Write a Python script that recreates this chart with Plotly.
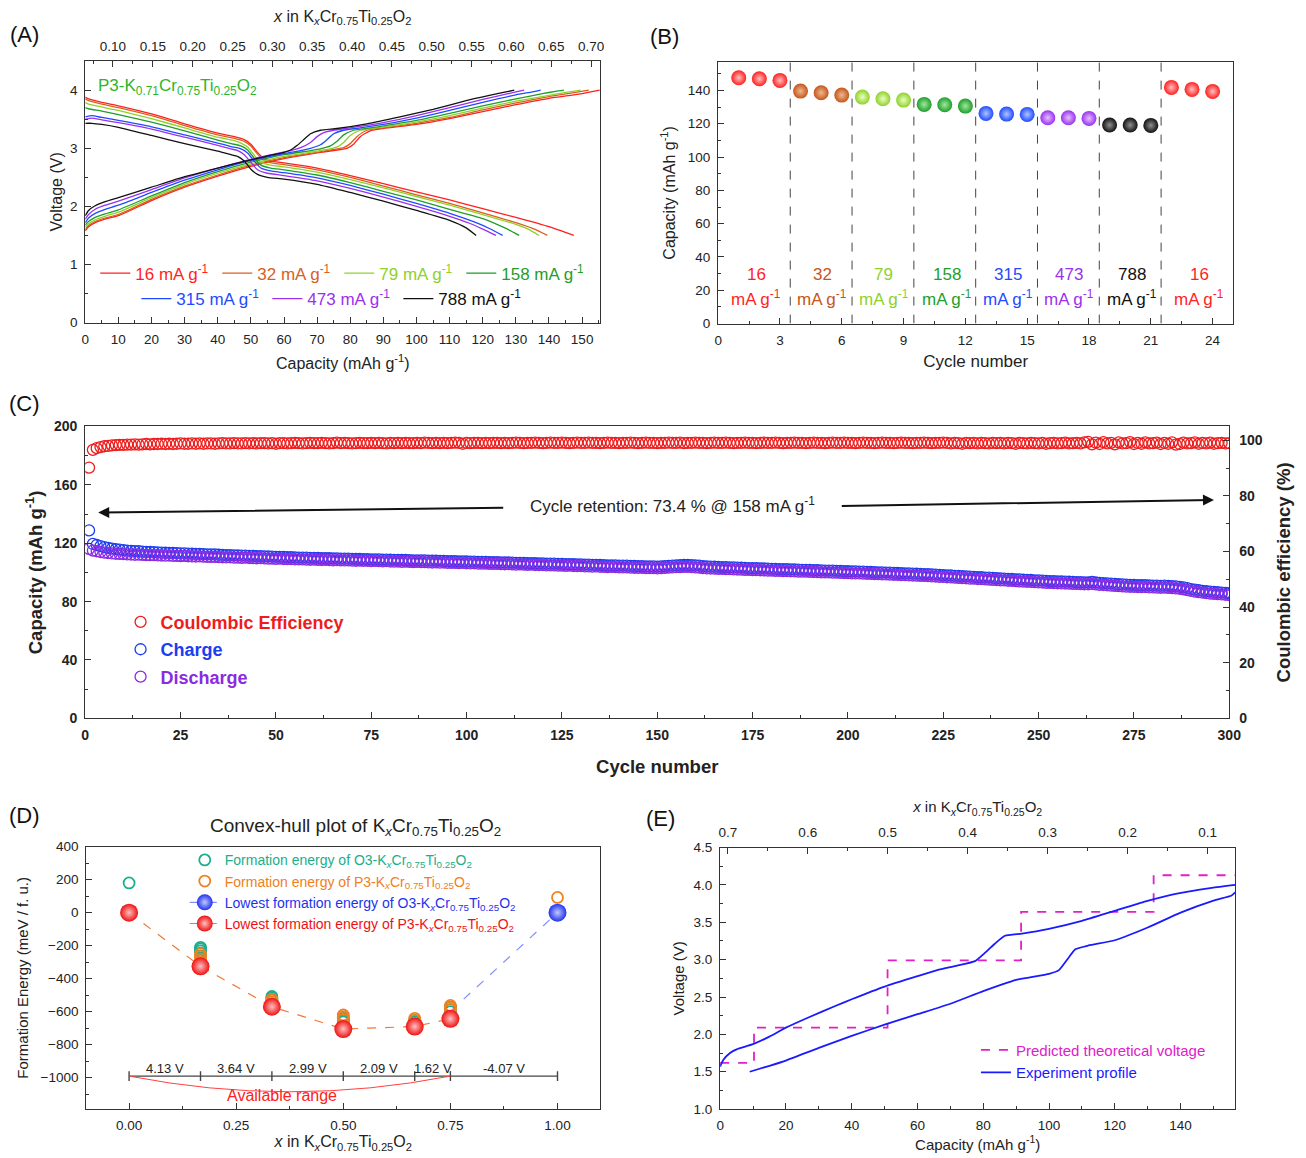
import plotly.graph_objects as go

W, H = 1306, 1158
FONT = "Liberation Sans, Arial, sans-serif"
AX = "#333333"

# page-to-picture calibration (the captured picture is slightly scaled/offset)
SX, OX, SY, OY = 0.9895, 4.6, 0.9843, 9.0


def fx(p):
    return p / W


def fy(p):
    return 1 - p / H


def PX(r):
    return fx((r - OX) / SX)


def PY(r):
    return fy((r - OY) / SY)


# ------------------------------------------------------------------ Panel A data
rate_labels = ["16", "32", "79", "158", "315", "473", "788"]
rate_colors = ["#ff1f1f", "#d95f1e", "#8fd12a", "#1f9e2a", "#1f4bff", "#9b30f0", "#111111"]

cap_ch_16 = [0, 1, 3, 6, 10, 20, 30, 40, 50, 60, 70, 76, 79, 81, 83, 86, 90, 100, 110, 120, 130, 140, 150, 155.3]
v_ch_16 = [1.58, 1.65, 1.72, 1.78, 1.84, 2.1, 2.33, 2.52, 2.69, 2.82, 2.92, 2.97, 3.0, 3.07, 3.2, 3.3, 3.34, 3.41, 3.51, 3.63, 3.75, 3.86, 3.94, 4.0]
cap_ch_32 = [0, 1, 3, 6, 10, 20, 30, 40, 50, 60, 70, 75, 78, 80, 82, 85, 90, 100, 110, 120, 130, 140, 148, 152]
v_ch_32 = [1.6, 1.67, 1.74, 1.8, 1.86, 2.12, 2.35, 2.54, 2.71, 2.84, 2.93, 2.98, 3.01, 3.08, 3.2, 3.31, 3.35, 3.43, 3.53, 3.66, 3.78, 3.89, 3.96, 4.0]
cap_ch_79 = [0, 1, 3, 6, 10, 20, 30, 40, 50, 60, 70, 73, 76, 78, 80, 83, 88, 100, 110, 120, 130, 140, 146, 149.5]
v_ch_79 = [1.64, 1.7, 1.77, 1.83, 1.9, 2.15, 2.38, 2.57, 2.73, 2.86, 2.95, 2.98, 3.02, 3.1, 3.22, 3.31, 3.35, 3.45, 3.56, 3.69, 3.81, 3.91, 3.97, 4.0]
cap_ch_158 = [0, 1, 3, 6, 10, 20, 30, 40, 50, 60, 68, 71, 74, 76, 78, 81, 86, 100, 110, 120, 130, 138, 142, 144.5]
v_ch_158 = [1.68, 1.74, 1.81, 1.87, 1.94, 2.18, 2.41, 2.6, 2.76, 2.89, 2.96, 2.99, 3.04, 3.12, 3.23, 3.31, 3.35, 3.48, 3.6, 3.73, 3.85, 3.94, 3.98, 4.0]
cap_ch_315 = [0, 1, 3, 6, 10, 20, 30, 40, 50, 60, 65, 68, 71, 73, 75, 78, 83, 90, 100, 110, 120, 130, 135, 137.5]
v_ch_315 = [1.72, 1.8, 1.88, 1.95, 2.02, 2.24, 2.45, 2.63, 2.79, 2.91, 2.96, 3.0, 3.06, 3.15, 3.25, 3.31, 3.35, 3.41, 3.52, 3.65, 3.79, 3.92, 3.97, 4.0]
cap_ch_473 = [0, 1, 3, 6, 10, 20, 30, 40, 50, 58, 62, 65, 68, 70, 72, 75, 80, 90, 100, 110, 120, 127, 130, 132.5]
v_ch_473 = [1.78, 1.86, 1.95, 2.02, 2.09, 2.29, 2.49, 2.66, 2.81, 2.91, 2.96, 3.01, 3.1, 3.2, 3.27, 3.31, 3.35, 3.44, 3.56, 3.7, 3.84, 3.93, 3.97, 4.0]
cap_ch_788 = [0, 1, 3, 6, 10, 20, 30, 40, 50, 56, 60, 62, 64, 66, 68, 71, 76, 85, 95, 105, 115, 122, 127, 129.5]
v_ch_788 = [1.84, 1.93, 2.01, 2.08, 2.15, 2.33, 2.51, 2.66, 2.8, 2.88, 2.93, 2.97, 3.05, 3.15, 3.25, 3.31, 3.34, 3.42, 3.54, 3.67, 3.82, 3.91, 3.97, 4.0]

cap_dc_16 = [0, 1, 5, 10, 20, 30, 40, 45, 48, 50, 52, 54, 57, 60, 70, 80, 90, 100, 110, 120, 130, 140, 147.5]
v_dc_16 = [3.88, 3.85, 3.79, 3.73, 3.59, 3.42, 3.26, 3.2, 3.15, 3.07, 2.93, 2.82, 2.77, 2.75, 2.66, 2.53, 2.39, 2.25, 2.11, 1.96, 1.81, 1.65, 1.5]
cap_dc_32 = [0, 1, 5, 10, 20, 30, 40, 45, 48, 50, 52, 54, 57, 60, 70, 80, 90, 100, 110, 120, 130, 136, 139.5]
v_dc_32 = [3.85, 3.82, 3.76, 3.7, 3.56, 3.39, 3.23, 3.17, 3.12, 3.04, 2.9, 2.79, 2.74, 2.72, 2.63, 2.5, 2.35, 2.2, 2.05, 1.89, 1.72, 1.6, 1.5]
cap_dc_79 = [0, 1, 5, 10, 20, 30, 40, 45, 47, 49, 51, 53, 56, 60, 70, 80, 90, 100, 110, 120, 130, 134, 137]
v_dc_79 = [3.79, 3.76, 3.71, 3.65, 3.51, 3.35, 3.19, 3.13, 3.09, 3.02, 2.88, 2.76, 2.71, 2.68, 2.59, 2.46, 2.32, 2.17, 2.02, 1.86, 1.69, 1.6, 1.5]
cap_dc_158 = [0, 1, 5, 10, 20, 30, 40, 44, 47, 49, 51, 53, 56, 60, 70, 80, 90, 100, 110, 120, 127, 131]
v_dc_158 = [3.7, 3.68, 3.64, 3.58, 3.45, 3.3, 3.14, 3.08, 3.04, 2.97, 2.83, 2.71, 2.66, 2.63, 2.54, 2.41, 2.26, 2.11, 1.95, 1.79, 1.62, 1.5]
cap_dc_315 = [0, 2, 5, 10, 20, 30, 40, 44, 47, 49, 51, 53, 56, 60, 70, 80, 90, 100, 110, 118, 122, 126]
v_dc_315 = [3.54, 3.56, 3.53, 3.48, 3.37, 3.23, 3.09, 3.03, 2.99, 2.92, 2.78, 2.66, 2.61, 2.58, 2.49, 2.36, 2.21, 2.05, 1.88, 1.72, 1.62, 1.5]
cap_dc_473 = [0, 2, 5, 10, 20, 30, 40, 44, 46, 48, 50, 52, 55, 60, 70, 80, 90, 100, 110, 116, 120, 124]
v_dc_473 = [3.5, 3.52, 3.49, 3.44, 3.33, 3.19, 3.05, 2.99, 2.96, 2.89, 2.76, 2.63, 2.57, 2.53, 2.44, 2.31, 2.16, 2.0, 1.83, 1.71, 1.61, 1.5]
cap_dc_788 = [0, 2, 5, 10, 20, 30, 40, 44, 46, 48, 50, 52, 55, 60, 70, 80, 90, 100, 110, 115, 118]
v_dc_788 = [3.43, 3.43, 3.41, 3.36, 3.22, 3.08, 2.95, 2.89, 2.86, 2.78, 2.64, 2.55, 2.5, 2.47, 2.38, 2.24, 2.09, 1.93, 1.76, 1.63, 1.5]

charge_caps = [cap_ch_16, cap_ch_32, cap_ch_79, cap_ch_158, cap_ch_315, cap_ch_473, cap_ch_788]
charge_volts = [v_ch_16, v_ch_32, v_ch_79, v_ch_158, v_ch_315, v_ch_473, v_ch_788]
dis_caps = [cap_dc_16, cap_dc_32, cap_dc_79, cap_dc_158, cap_dc_315, cap_dc_473, cap_dc_788]
dis_volts = [v_dc_16, v_dc_32, v_dc_79, v_dc_158, v_dc_315, v_dc_473, v_dc_788]

# ------------------------------------------------------------------ Panel B data
b_rate_labels = ["16", "32", "79", "158", "315", "473", "788", "16"]
b_colors = ["#ff1f1f", "#c4561c", "#8fd12a", "#1f9e2a", "#1f4bff", "#9b30f0", "#111111", "#ff1f1f"]
b_highlight = ["#ffc0c0", "#f0b890", "#e8ffc0", "#a0e8a0", "#b0c4ff", "#e4c0ff", "#909090", "#ffc0c0"]
b_cycles = [[1, 2, 3], [4, 5, 6], [7, 8, 9], [10, 11, 12], [13, 14, 15], [16, 17, 18], [19, 20, 21], [22, 23, 24]]
b_capacity = [[147.6, 147.0, 146.0], [139.6, 138.6, 137.2], [136.0, 135.0, 134.2], [131.6, 131.4, 130.6],
              [126.2, 125.8, 125.6], [123.6, 123.6, 123.2], [119.2, 119.2, 119.0], [141.8, 140.6, 139.4]]
b_label_x = [1.85, 5.05, 8.05, 11.1, 14.05, 17.05, 20.1, 23.35]
b_separators = [3.5, 6.5, 9.5, 12.5, 15.5, 18.5, 21.5]

# ------------------------------------------------------------------ Panel C data
cycles_C = list(range(1, 301))
ce_C = [
    90.2, 96.6, 97.2, 97.6, 97.9, 98.0, 98.2, 98.3, 98.4, 98.4, 98.5, 98.5, 98.6, 98.5, 98.6, 98.7, 98.6, 98.7, 98.7, 98.8,
    98.7, 98.8, 98.7, 98.8, 98.9, 98.8, 98.8, 98.9, 98.8, 98.9, 98.8, 98.9, 98.9, 98.8, 98.9, 99.0, 98.9, 98.9, 99.0, 98.9,
    98.9, 99.0, 98.9, 99.0, 98.9, 99.0, 99.0, 98.9, 99.0, 98.8, 99.0, 99.0, 98.9, 99.0, 99.1, 99.0, 98.9, 99.0, 99.1, 99.0,
    99.0, 99.1, 99.0, 98.9, 99.0, 99.2, 99.0, 99.1, 99.0, 98.9, 99.0, 99.1, 99.0, 99.0, 99.1, 99.0, 99.1, 99.0, 98.9, 99.1,
    99.0, 99.1, 99.0, 99.1, 99.0, 99.0, 99.1, 99.0, 99.2, 99.1, 99.0, 99.1, 99.0, 99.1, 99.0, 99.1, 99.2, 99.1, 98.8, 99.1,
    99.0, 99.1, 99.1, 99.0, 99.1, 99.0, 99.1, 99.1, 99.0, 99.1, 99.0, 99.1, 99.2, 99.1, 99.0, 99.1, 99.1, 99.2, 99.1, 99.0,
    99.1, 99.2, 99.1, 99.1, 99.2, 99.1, 99.0, 99.1, 99.2, 99.1, 99.1, 99.2, 99.1, 99.1, 99.0, 99.1, 99.2, 99.1, 99.1, 99.0,
    99.1, 99.1, 99.2, 99.1, 99.0, 99.1, 99.2, 99.1, 99.1, 99.0, 99.1, 99.1, 99.2, 99.1, 99.1, 99.2, 99.0, 99.1, 99.1, 99.2,
    99.1, 99.1, 99.0, 99.1, 99.2, 99.1, 99.1, 99.2, 99.1, 99.0, 99.1, 99.1, 99.2, 99.1, 99.1, 99.0, 99.1, 99.2, 99.1, 99.1,
    99.2, 99.1, 99.0, 99.1, 99.1, 99.2, 99.1, 99.1, 99.0, 99.1, 99.2, 99.1, 99.1, 99.0, 99.1, 99.2, 99.1, 99.1, 99.2, 99.1,
    99.1, 99.0, 99.1, 99.2, 99.1, 99.1, 99.0, 99.1, 99.2, 99.1, 99.1, 99.0, 99.1, 99.2, 99.1, 99.1, 99.0, 99.1, 99.1, 99.2,
    99.1, 99.0, 99.1, 99.1, 99.2, 99.1, 98.9, 99.1, 99.0, 98.8, 99.1, 99.0, 99.1, 98.9, 99.1, 99.0, 98.9, 99.1, 99.0, 99.1,
    98.9, 99.1, 99.0, 98.8, 99.1, 99.0, 98.9, 99.1, 99.0, 98.9, 99.1, 98.8, 99.0, 99.1, 98.9, 99.0, 99.2, 98.9, 99.0, 99.1,
    98.9, 99.3, 99.5, 98.6, 99.2, 98.7, 99.4, 98.9, 99.1, 98.6, 99.3, 98.9, 99.0, 99.4, 98.7, 99.1, 98.8, 99.3, 98.9, 99.0,
    99.2, 98.7, 99.1, 98.8, 99.3, 98.5, 98.7, 99.2, 98.9, 99.0, 99.3, 98.8, 99.1, 98.9, 99.2, 98.8, 99.0, 99.1, 98.9, 99.0,
]
charge_C = [
    128.8, 119.5, 118.8, 118.0, 117.3, 116.8, 116.3, 115.9, 115.6, 115.3, 115.0, 114.8, 114.6, 114.5, 114.3, 114.1, 114.0, 113.9, 113.7, 113.6,
    113.5, 113.4, 113.3, 113.2, 113.0, 113.1, 112.9, 112.8, 112.7, 112.7, 112.5, 112.4, 112.3, 112.3, 112.1, 112.0, 111.9, 111.9, 111.7, 111.6,
    111.5, 111.5, 111.4, 111.3, 111.2, 111.2, 111.0, 110.9, 110.8, 110.7, 110.7, 110.6, 110.5, 110.5, 110.3, 110.2, 110.2, 110.1, 110.0, 110.0,
    109.9, 109.8, 109.8, 109.7, 109.6, 109.6, 109.5, 109.4, 109.4, 109.3, 109.2, 109.2, 109.1, 109.1, 109.0, 108.9, 108.9, 108.8, 108.8, 108.7,
    108.6, 108.6, 108.5, 108.5, 108.4, 108.3, 108.3, 108.2, 108.2, 108.1, 108.0, 108.0, 107.9, 107.9, 107.8, 107.7, 107.7, 107.6, 107.6, 107.5,
    107.4, 107.4, 107.3, 107.2, 107.2, 107.1, 107.0, 107.0, 106.9, 106.8, 106.8, 106.7, 106.6, 106.6, 106.5, 106.4, 106.4, 106.3, 106.2, 106.2,
    106.1, 106.0, 106.0, 105.9, 105.8, 105.7, 105.7, 105.6, 105.5, 105.5, 105.4, 105.3, 105.2, 105.2, 105.1, 105.0, 104.9, 104.9, 104.8, 104.7,
    104.6, 104.6, 104.5, 104.4, 104.3, 104.3, 104.2, 104.1, 104.1, 104.0, 104.1, 104.3, 104.5, 104.7, 104.9, 105.0, 105.1, 105.1, 105.0, 104.8,
    104.6, 104.3, 104.1, 104.0, 103.9, 103.8, 103.7, 103.6, 103.5, 103.4, 103.3, 103.2, 103.1, 103.0, 102.9, 102.9, 102.8, 102.7, 102.6, 102.5,
    102.4, 102.3, 102.2, 102.2, 102.1, 102.0, 101.9, 101.8, 101.8, 101.7, 101.6, 101.5, 101.4, 101.3, 101.3, 101.2, 101.1, 101.0, 100.9, 100.8,
    100.7, 100.7, 100.6, 100.5, 100.4, 100.3, 100.2, 100.1, 100.0, 99.9, 99.8, 99.7, 99.6, 99.5, 99.4, 99.3, 99.2, 99.1, 99.0, 98.9,
    98.8, 98.6, 98.5, 98.3, 98.2, 98.0, 97.9, 97.7, 97.6, 97.4, 97.3, 97.1, 97.0, 96.8, 96.7, 96.5, 96.4, 96.2, 96.1, 95.9,
    95.8, 95.6, 95.5, 95.3, 95.2, 95.0, 94.9, 94.8, 94.6, 94.5, 94.4, 94.2, 94.1, 94.0, 93.9, 93.8, 93.7, 93.6, 93.5, 93.4,
    93.3, 93.2, 93.2, 93.5, 93.1, 92.8, 92.7, 92.5, 92.3, 92.1, 91.9, 91.8, 91.6, 91.5, 91.4, 91.3, 91.2, 91.3, 91.1, 91.0,
    90.9, 90.8, 90.9, 90.7, 90.6, 90.4, 90.1, 89.7, 89.2, 88.6, 88.2, 87.8, 87.4, 87.1, 86.8, 86.6, 86.4, 86.2, 86.0, 85.8,
]
discharge_C = [
    116.2, 115.0, 114.5, 114.0, 113.6, 113.3, 113.0, 112.8, 112.7, 112.6, 112.4, 112.3, 112.1, 112.2, 112.0, 111.9, 111.8, 111.9, 111.7, 111.6,
    111.5, 111.6, 111.4, 111.3, 111.2, 111.3, 111.1, 111.0, 110.9, 111.0, 110.8, 110.7, 110.6, 110.7, 110.5, 110.4, 110.3, 110.4, 110.2, 110.1,
    110.0, 110.1, 109.9, 109.8, 109.7, 109.8, 109.6, 109.5, 109.4, 109.3, 109.4, 109.2, 109.1, 109.2, 109.0, 108.9, 109.0, 108.8, 108.7, 108.8,
    108.6, 108.5, 108.6, 108.4, 108.3, 108.4, 108.3, 108.2, 108.3, 108.1, 108.0, 108.1, 107.9, 108.0, 107.8, 107.9, 107.7, 107.6, 107.7, 107.5,
    107.4, 107.5, 107.3, 107.4, 107.2, 107.1, 107.2, 107.0, 107.1, 106.9, 106.8, 106.9, 106.7, 106.8, 106.6, 106.5, 106.6, 106.4, 106.5, 106.3,
    106.2, 106.3, 106.1, 106.0, 106.1, 105.9, 105.8, 105.9, 105.7, 105.6, 105.7, 105.5, 105.4, 105.5, 105.3, 105.2, 105.3, 105.1, 105.0, 105.1,
    104.9, 104.8, 104.9, 104.7, 104.6, 104.5, 104.6, 104.4, 104.3, 104.4, 104.2, 104.1, 104.0, 104.1, 103.9, 103.8, 103.7, 103.8, 103.6, 103.5,
    103.4, 103.5, 103.3, 103.2, 103.1, 103.2, 103.0, 102.9, 103.0, 102.8, 102.9, 103.1, 103.3, 103.4, 103.6, 103.7, 103.8, 103.8, 103.7, 103.5,
    103.3, 103.0, 102.8, 102.7, 102.6, 102.5, 102.4, 102.3, 102.2, 102.1, 102.0, 101.9, 101.8, 101.7, 101.6, 101.6, 101.5, 101.4, 101.3, 101.2,
    101.1, 101.0, 100.9, 100.9, 100.8, 100.7, 100.6, 100.5, 100.5, 100.4, 100.3, 100.2, 100.1, 100.0, 100.0, 99.9, 99.8, 99.7, 99.6, 99.5,
    99.4, 99.4, 99.3, 99.2, 99.1, 99.0, 98.9, 98.8, 98.7, 98.6, 98.5, 98.4, 98.3, 98.2, 98.1, 98.0, 97.9, 97.8, 97.7, 97.6,
    97.5, 97.3, 97.2, 97.0, 96.9, 96.7, 96.6, 96.4, 96.3, 96.1, 96.0, 95.8, 95.7, 95.5, 95.4, 95.2, 95.1, 94.9, 94.8, 94.6,
    94.5, 94.3, 94.2, 94.0, 93.9, 93.7, 93.6, 93.5, 93.3, 93.2, 93.1, 92.9, 92.8, 92.7, 92.6, 92.5, 92.4, 92.3, 92.2, 92.1,
    92.0, 91.9, 91.9, 92.1, 91.8, 91.5, 91.4, 91.2, 91.0, 90.8, 90.6, 90.5, 90.3, 90.2, 90.1, 90.0, 89.9, 90.0, 89.8, 89.7,
    89.6, 89.5, 89.6, 89.4, 89.3, 89.1, 88.8, 88.4, 87.9, 87.3, 86.9, 86.5, 86.1, 85.8, 85.5, 85.3, 85.1, 84.9, 84.7, 84.5,
]

# ------------------------------------------------------------------ Panel D data
o3_x = [0.0, 0.1667, 0.1667, 0.1667, 0.1667, 0.1667, 0.3333, 0.3333, 0.3333, 0.5, 0.5, 0.5, 0.6667, 0.6667, 0.6667, 0.75, 0.75, 0.75]
o3_e = [180, -210, -220, -232, -245, -262, -508, -518, -530, -640, -652, -662, -652, -662, -672, -572, -588, -600]
p3_x = [0.1667, 0.1667, 0.1667, 0.1667, 0.3333, 0.3333, 0.3333, 0.5, 0.5, 0.5, 0.6667, 0.6667, 0.75, 0.75, 0.75, 1.0]
p3_e = [-250, -265, -282, -300, -525, -540, -552, -620, -632, -648, -640, -652, -562, -574, -586, 92]
p3_low_x = [0.0, 0.1667, 0.3333, 0.5, 0.6667, 0.75]
p3_low_e = [0, -325, -570, -705, -690, -643]
o3_low_x = [1.0]
o3_low_e = [0]
o3_hull_x = [0.75, 1.0]
o3_hull_e = [-598, 0]
bar_x = [0.0, 0.1667, 0.3333, 0.5, 0.6667, 0.75, 1.0]
bar_labels = ["4.13 V", "3.64 V", "2.99 V", "2.09 V", "1.62 V", "-4.07 V"]
bar_level = -990

# ------------------------------------------------------------------ Panel E data
pred_cap = [0, 10.3, 50.9, 91.5, 131.8, 156.6]
pred_v = [1.62, 2.09, 2.99, 3.64, 4.13, 4.13]
exp_ch_cap = [0, 1, 3, 5, 10, 15, 20, 27, 35, 40, 50, 60, 66, 72, 77.5, 80, 83.4, 86.6, 91.8, 99.6, 110, 119.7, 129.4, 139.7, 149.5, 156.6]
exp_ch_v = [1.57, 1.66, 1.75, 1.8, 1.87, 1.97, 2.09, 2.23, 2.38, 2.47, 2.64, 2.78, 2.86, 2.92, 2.98, 3.07, 3.21, 3.32, 3.35, 3.41, 3.52, 3.65, 3.78, 3.89, 3.96, 4.0]
exp_dc_cap = [156.6, 155.5, 150, 140, 130, 120, 112, 108, 106, 103, 100, 90, 80, 70, 60, 50, 40, 30, 20, 15, 9]
exp_dc_v = [3.9, 3.86, 3.79, 3.63, 3.43, 3.26, 3.19, 3.14, 3.03, 2.86, 2.81, 2.73, 2.58, 2.41, 2.27, 2.13, 1.98, 1.82, 1.65, 1.58, 1.5]

FORMULA = "K<sub><i>x</i></sub>Cr<sub>0.75</sub>Ti<sub>0.25</sub>O<sub>2</sub>"

fig = go.Figure()

# ---------------- Panel A traces
for i, lab in enumerate(rate_labels):
    col = rate_colors[i]
    leg = "legend" if i < 4 else "legend2"
    name = f'<span style="color:{col}">{lab} mA g<sup>-1</sup></span>'
    fig.add_trace(go.Scatter(x=charge_caps[i], y=charge_volts[i], mode="lines", name=name,
                             line=dict(color=col, width=1.3, shape="spline", smoothing=0.5),
                             xaxis="x", yaxis="y", legend=leg, legendgroup=lab, showlegend=True,
                             hoverinfo="skip"))
    fig.add_trace(go.Scatter(x=dis_caps[i], y=dis_volts[i], mode="lines", name=name,
                             line=dict(color=col, width=1.3, shape="spline", smoothing=0.5),
                             xaxis="x", yaxis="y", legendgroup=lab, showlegend=False,
                             hoverinfo="skip"))
fig.add_trace(go.Scatter(x=[0.1, 0.7], y=[None, None], mode="markers", xaxis="x2", yaxis="y",
                         showlegend=False, hoverinfo="skip"))

# ---------------- Panel B traces
for i in range(8):
    fig.add_trace(go.Scatter(x=b_cycles[i], y=b_capacity[i], mode="markers",
                             marker=dict(size=15, color=b_colors[i],
                                         gradient=dict(type="radial", color=b_highlight[i]),
                                         line=dict(width=0)),
                             xaxis="x3", yaxis="y3", showlegend=False, hoverinfo="skip"))

# ---------------- Panel C traces
fig.add_trace(go.Scatter(x=cycles_C, y=ce_C, mode="markers", name='<span style="color:#ee1c1c">Coulombic Efficiency</span>',
                         marker=dict(symbol="circle-open", size=11, color="#ee1c1c", line=dict(width=1.3)),
                         xaxis="x4", yaxis="y5", legend="legend3", legendgroup="ce", hoverinfo="skip"))
fig.add_trace(go.Scatter(x=cycles_C, y=charge_C, mode="markers", name='<span style="color:#1c3cf0">Charge</span>',
                         marker=dict(symbol="circle-open", size=11, color="#1c3cf0", line=dict(width=1.3)),
                         xaxis="x4", yaxis="y4", legend="legend3", legendgroup="ch", hoverinfo="skip"))
fig.add_trace(go.Scatter(x=cycles_C, y=discharge_C, mode="markers", name='<span style="color:#8a2be2">Discharge</span>',
                         marker=dict(symbol="circle-open", size=11, color="#8a2be2", line=dict(width=1.3)),
                         xaxis="x4", yaxis="y4", legend="legend3", legendgroup="dc", hoverinfo="skip"))

# ---------------- Panel D traces
fig.add_trace(go.Scatter(x=o3_hull_x, y=o3_hull_e, mode="lines",
                         line=dict(color="#8090ff", width=1.2, dash="dash"),
                         xaxis="x6", yaxis="y6", showlegend=False, hoverinfo="skip"))
fig.add_trace(go.Scatter(x=o3_x, y=o3_e, mode="markers",
                         name=f'<span style="color:#1aae8c">Formation energy of O3-{FORMULA}</span>',
                         marker=dict(symbol="circle-open", size=11, color="#1aae8c", line=dict(width=1.8)),
                         xaxis="x6", yaxis="y6", legend="legend4", legendgroup="o3", hoverinfo="skip"))
fig.add_trace(go.Scatter(x=p3_x, y=p3_e, mode="markers",
                         name=f'<span style="color:#f08020">Formation energy of P3-{FORMULA}</span>',
                         marker=dict(symbol="circle-open", size=11, color="#f08020", line=dict(width=1.8)),
                         xaxis="x6", yaxis="y6", legend="legend4", legendgroup="p3", hoverinfo="skip"))
fig.add_trace(go.Scatter(x=o3_low_x, y=o3_low_e, mode="lines+markers",
                         name=f'<span style="color:#2233ee">Lowest formation energy of O3-{FORMULA}</span>',
                         line=dict(color="#8090ff", width=1.2, dash="dash"),
                         marker=dict(size=18, color="#2233ee", gradient=dict(type="radial", color="#c0c8ff"),
                                     line=dict(width=0)),
                         xaxis="x6", yaxis="y6", legend="legend4", legendgroup="o3l", hoverinfo="skip"))
fig.add_trace(go.Scatter(x=p3_low_x, y=p3_low_e, mode="lines+markers",
                         name=f'<span style="color:#ee1111">Lowest formation energy of P3-{FORMULA}</span>',
                         line=dict(color="#f07838", width=1.2, dash="dash"),
                         marker=dict(size=18, color="#ee1111", gradient=dict(type="radial", color="#ffc0c0"),
                                     line=dict(width=0)),
                         xaxis="x6", yaxis="y6", legend="legend4", legendgroup="p3l", hoverinfo="skip"))
fig.add_trace(go.Scatter(x=[bar_x[0], bar_x[-1]], y=[bar_level, bar_level], mode="lines",
                         line=dict(color="#444444", width=1.4), xaxis="x6", yaxis="y6",
                         showlegend=False, hoverinfo="skip"))

# ---------------- Panel E traces
fig.add_trace(go.Scatter(x=pred_cap, y=pred_v, mode="lines", line_shape="hv",
                         name='<span style="color:#e020c8">Predicted theoretical voltage</span>',
                         line=dict(color="#e020c8", width=1.8, dash="dash"),
                         xaxis="x7", yaxis="y7", legend="legend5", legendgroup="pred", hoverinfo="skip"))
fig.add_trace(go.Scatter(x=exp_ch_cap, y=exp_ch_v, mode="lines",
                         name='<span style="color:#1a1aff">Experiment profile</span>',
                         line=dict(color="#1a1aff", width=1.8, shape="spline", smoothing=0.5),
                         xaxis="x7", yaxis="y7", legend="legend5", legendgroup="exp", hoverinfo="skip"))
fig.add_trace(go.Scatter(x=exp_dc_cap, y=exp_dc_v, mode="lines",
                         line=dict(color="#1a1aff", width=1.8, shape="spline", smoothing=0.5),
                         xaxis="x7", yaxis="y7", legendgroup="exp", showlegend=False, hoverinfo="skip"))
fig.add_trace(go.Scatter(x=[0.7, 0.1], y=[None, None], mode="markers", xaxis="x8", yaxis="y7",
                         showlegend=False, hoverinfo="skip"))


def tf(size=13.5, weight="normal"):
    return dict(size=size, color="#222222", family=FONT, weight=weight)


def axis(**kw):
    base = dict(showline=True, linecolor=AX, linewidth=1.2, ticks="inside", ticklen=6, tickwidth=1.2,
                tickcolor=AX, showgrid=False, zeroline=False, tickfont=tf(), ticklabelstandoff=4)
    base.update(kw)
    return base


def minor(d, ln=3):
    return dict(ticks="inside", ticklen=ln, dtick=d, tickcolor=AX, tickwidth=1.1, showgrid=False)


def title(text, size=16, standoff=6, weight="normal"):
    return dict(text=text, font=dict(size=size, family=FONT, color="#222222", weight=weight), standoff=standoff)


layout = dict(
    width=W, height=H, autosize=False,
    margin=dict(l=0, r=0, t=0, b=0),
    paper_bgcolor="white", plot_bgcolor="white",
    font=dict(family=FONT, color="#222222"),
    # Panel A
    xaxis=axis(domain=[PX(86), PX(602)], range=[0, 155.5], anchor="y", dtick=10, tick0=0, minor=minor(5),
               mirror=True, title=title("Capacity (mAh g<sup>-1</sup>)", 16, 11)),
    yaxis=axis(domain=[PY(323), PY(62)], range=[0, 4.5], anchor="x", dtick=1, tick0=0, minor=minor(0.5),
               mirror=True, title=title("Voltage (V)", 16, 3)),
    xaxis2=axis(overlaying="x", side="top", anchor="y", range=[0.0652, 0.7116], tick0=0.1, dtick=0.05,
                tickformat=".2f", minor=minor(0.025), title=title("<i>x</i> in " + FORMULA, 16, 12)),
    # Panel B
    xaxis3=axis(domain=[PX(720), PX(1236)], range=[0, 25], anchor="y3", dtick=3, tick0=0, minor=minor(1.5),
                mirror=True, title=title("Cycle number", 17, 8)),
    yaxis3=axis(domain=[PY(324), PY(63)], range=[0, 157], anchor="x3", dtick=20, tick0=0, minor=minor(10),
                mirror=True, title=title("Capacity (mAh g<sup>-1</sup>)", 16, 8)),
    # Panel C
    xaxis4=axis(domain=[PX(86), PX(1232)], range=[0, 300], anchor="y4", dtick=25, tick0=0, minor=minor(12.5),
                mirror=True, tickfont=tf(14, "bold"), title=title("Cycle number", 18.5, 17, "bold")),
    yaxis4=axis(domain=[PY(718), PY(426.7)], range=[0, 200], anchor="x4", dtick=40, tick0=0, minor=minor(20),
                tickfont=tf(14, "bold"), title=title("Capacity (mAh g<sup>-1</sup>)", 18.5, 6, "bold")),
    yaxis5=axis(overlaying="y4", side="right", anchor="x4", range=[0, 105], dtick=20, tick0=0, minor=minor(10),
                tickfont=tf(14, "bold"), ticklabelstandoff=6,
                title=title("Coulombic efficiency (%)", 18.5, 15, "bold")),
    # Panel D
    xaxis6=axis(domain=[PX(87), PX(602)], range=[-0.1, 1.1], anchor="y6", dtick=0.25, tick0=0,
                tickformat=".2f", minor=minor(0.125), mirror=True,
                title=title("<i>x</i> in " + FORMULA, 16, 3)),
    yaxis6=axis(domain=[PY(1108), PY(846)], range=[-1190, 400], anchor="x6", dtick=200, tick0=0,
                minor=minor(100), mirror=True, title=title("Formation Energy (meV / f. u.)", 15, 8)),
    # Panel E
    xaxis7=axis(domain=[PX(722), PX(1238)], range=[0, 156.6], anchor="y7", dtick=20, tick0=0, minor=minor(10),
                mirror=True, title=title("Capacity (mAh g<sup>-1</sup>)", 15, 3)),
    yaxis7=axis(domain=[PY(1108), PY(847)], range=[1.0, 4.5], anchor="x7", dtick=0.5, tick0=1,
                tickformat=".1f", minor=minor(0.25), mirror=True, title=title("Voltage (V)", 15, 5)),
    xaxis8=axis(overlaying="x7", side="top", anchor="y7", range=[0.7096, 0.0654], dtick=0.1, tick0=0.1,
                tickformat=".1f", minor=minor(0.05), title=title("<i>x</i> in " + FORMULA, 15, 8)),
    # Legends
    legend=dict(x=fx(92.4), y=fy(251), xanchor="left", yanchor="top", orientation="h", entrywidth=77,
                font=dict(size=17, family=FONT), bgcolor="rgba(0,0,0,0)", itemwidth=30),
    legend2=dict(x=fx(134), y=fy(277), xanchor="left", yanchor="top", orientation="h", entrywidth=86,
                 font=dict(size=17, family=FONT), bgcolor="rgba(0,0,0,0)", itemwidth=30),
    legend3=dict(x=fx(118), y=fy(604), xanchor="left", yanchor="top", orientation="v",
                 font=dict(size=18, family=FONT, weight="bold"), bgcolor="rgba(0,0,0,0)",
                 traceorder="grouped", tracegroupgap=1),
    legend4=dict(x=fx(183), y=fy(848), xanchor="left", yanchor="top", orientation="v",
                 font=dict(size=14, family=FONT), bgcolor="rgba(0,0,0,0)",
                 traceorder="grouped", tracegroupgap=0),
    legend5=dict(x=fx(984), y=fy(1040), xanchor="left", yanchor="top", orientation="v",
                 font=dict(size=15, family=FONT), bgcolor="rgba(0,0,0,0)",
                 traceorder="grouped", tracegroupgap=0),
)
fig.update_layout(**layout)

ann = []
for txt, px, py in [("(A)", 25, 35), ("(B)", 666, 37), ("(C)", 25, 404), ("(D)", 25, 815), ("(E)", 662, 818)]:
    ann.append(dict(text=txt, x=PX(px), y=PY(py), xref="paper", yref="paper", showarrow=False,
                    font=dict(size=22, family=FONT, color="#111111"), xanchor="center", yanchor="middle"))
ann.append(dict(text="P3-K<sub>0.71</sub>Cr<sub>0.75</sub>Ti<sub>0.25</sub>O<sub>2</sub>", x=PX(97), y=PY(88),
                xref="paper", yref="paper", showarrow=False, xanchor="left", yanchor="middle",
                font=dict(size=17, family=FONT, color="#2db52d")))
for i in range(8):
    ann.append(dict(text=b_rate_labels[i], x=b_label_x[i], y=29.5, xref="x3", yref="y3", showarrow=False,
                    font=dict(size=17, family=FONT, color=b_colors[i]), yanchor="middle"))
    ann.append(dict(text="mA g<sup>-1</sup>", x=b_label_x[i], y=15.5, xref="x3", yref="y3", showarrow=False,
                    font=dict(size=17, family=FONT, color=b_colors[i]), yanchor="middle"))
ann.append(dict(text="Cycle retention: 73.4 % @ 158 mA g<sup>-1</sup>", x=154, y=146, xref="x4", yref="y4",
                showarrow=False, font=dict(size=17, family=FONT, color="#222222")))
ann.append(dict(text="", x=3.4, y=141, ax=110, ay=144.4, xref="x4", yref="y4", axref="x4", ayref="y4",
                showarrow=True, arrowhead=2, arrowsize=1.1, arrowwidth=2, arrowcolor="#111111"))
ann.append(dict(text="", x=296, y=149.7, ax=198, ay=145.5, xref="x4", yref="y4", axref="x4", ayref="y4",
                showarrow=True, arrowhead=2, arrowsize=1.1, arrowwidth=2, arrowcolor="#111111"))
ann.append(dict(text="Convex-hull plot of " + FORMULA, x=PX(357), y=PY(826), xref="paper", yref="paper",
                xanchor="center", yanchor="middle",
                showarrow=False, font=dict(size=19, family=FONT, color="#222222")))
for i, lab in enumerate(bar_labels):
    ann.append(dict(text=lab, x=(bar_x[i] + bar_x[i + 1]) / 2, y=bar_level + 48, xref="x6", yref="y6",
                    showarrow=False, font=dict(size=13, family=FONT, color="#222222")))
ann.append(dict(text="Available range", x=0.357, y=-1106, xref="x6", yref="y6", showarrow=False,
                font=dict(size=16, family=FONT, color="#ff2020")))
fig.update_layout(annotations=ann)

shapes = []
for xs in b_separators:
    shapes.append(dict(type="line", x0=xs, x1=xs, y0=0, y1=157, xref="x3", yref="y3",
                       line=dict(color="#444444", width=1, dash="dash")))
for xb in bar_x:
    shapes.append(dict(type="line", x0=xb, x1=xb, y0=bar_level - 30, y1=bar_level + 30, xref="x6", yref="y6",
                       line=dict(color="#444444", width=1.4)))
shapes.append(dict(type="path", path=f"M 0,{bar_level} Q 0.375,{bar_level - 190} 0.75,{bar_level}",
                   xref="x6", yref="y6", line=dict(color="#ff4040", width=1)))
fig.update_layout(shapes=shapes)

fig.write_html(
    "out.html",
    config={"displayModeBar": False},
    post_script=("document.documentElement.style.margin='0';document.body.style.margin='0';"
                 "document.documentElement.style.overflow='hidden';document.body.style.overflow='hidden';"),
)
